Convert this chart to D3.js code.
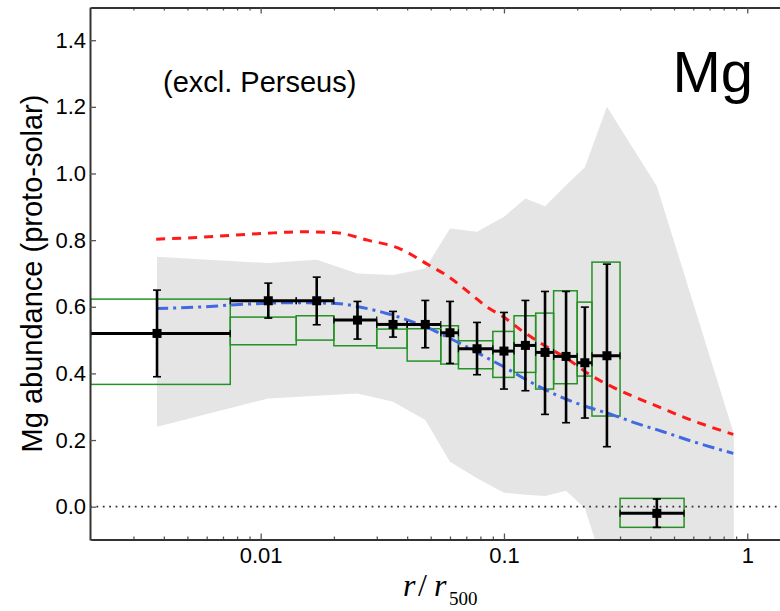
<!DOCTYPE html>
<html>
<head>
<meta charset="utf-8">
<script src="https://cdn.jsdelivr.net/npm/d3@7"></script>
<style>
  body { margin: 0; background: #fff; }
  svg { display: block; }
  text { font-family: "Liberation Sans", Arial, Helvetica, sans-serif; fill: #000; }
</style>
</head>
<body>
<svg id="chart" width="780" height="611"></svg>
<script>
// Radial bins in units of r500
const binLo  = [0, 0.0075, 0.014, 0.02, 0.03, 0.04, 0.055, 0.065, 0.09, 0.11, 0.135, 0.16, 0.2, 0.23, 0.3];
const binHi  = [0.0075, 0.014, 0.02, 0.03, 0.04, 0.055, 0.065, 0.09, 0.11, 0.135, 0.16, 0.2, 0.23, 0.3, 0.55];
const binMid = [0.00375, 0.01075, 0.017, 0.025, 0.035, 0.0475, 0.06, 0.0775, 0.1, 0.1225, 0.1475, 0.18, 0.215, 0.265, 0.425];

// Mg abundance (proto-solar) with statistical errors
const mgValue = [0.52, 0.618, 0.618, 0.56, 0.547, 0.547, 0.522, 0.474, 0.467, 0.484, 0.463, 0.451, 0.432, 0.453, -0.02];
const mgErrLo = [0.39, 0.566, 0.546, 0.503, 0.509, 0.477, 0.43, 0.396, 0.353, 0.348, 0.277, 0.252, 0.266, 0.18, -0.062];
const mgErrHi = [0.65, 0.671, 0.689, 0.616, 0.586, 0.619, 0.616, 0.553, 0.583, 0.619, 0.646, 0.646, 0.599, 0.728, 0.023];

// Systematic uncertainty boxes
const sysLo = [0.367, 0.486, 0.50, 0.483, 0.476, 0.437, 0.428, 0.414, 0.388, 0.403, 0.353, 0.369, 0.392, 0.272, -0.062];
const sysHi = [0.623, 0.569, 0.573, 0.56, 0.533, 0.534, 0.543, 0.498, 0.526, 0.573, 0.581, 0.648, 0.614, 0.734, 0.025];

// Scatter envelope of the individual clusters
const bandR  = [0.00375, 0.01075, 0.017, 0.025, 0.035, 0.0475, 0.06, 0.0775, 0.1, 0.1225, 0.1475, 0.18, 0.215, 0.265, 0.425, 0.88];
const bandHi = [0.75, 0.731, 0.741, 0.70, 0.695, 0.715, 0.835, 0.825, 0.87, 0.925, 0.902, 0.965, 1.019, 1.2, 0.962, 0.22];
const bandLo = [0.24, 0.325, 0.333, 0.34, 0.315, 0.26, 0.135, 0.085, 0.042, 0.036, 0.032, 0.048, -0.005, -0.21, -0.5, -0.6];

// Model profiles
const redR  = [0.00372, 0.00546, 0.00772, 0.01025, 0.01452, 0.0205, 0.0275, 0.0374, 0.0489, 0.059, 0.0737, 0.0849, 0.0993, 0.120, 0.1498, 0.181, 0.2257, 0.2813, 0.351, 0.4377, 0.5635, 0.7026, 0.876];
const redV  = [0.803, 0.808, 0.815, 0.82, 0.825, 0.822, 0.80, 0.774, 0.726, 0.691, 0.636, 0.60, 0.57, 0.525, 0.48, 0.445, 0.396, 0.358, 0.327, 0.298, 0.265, 0.24, 0.217];
const blueR = [0.00372, 0.0059, 0.00748, 0.0132, 0.0205, 0.0248, 0.0330, 0.0438, 0.0512, 0.0581, 0.0703, 0.0835, 0.1026, 0.1279, 0.1647, 0.2188, 0.2813, 0.351, 0.4516, 0.60, 0.876];
const blueV = [0.595, 0.600, 0.605, 0.612, 0.610, 0.601, 0.58, 0.55, 0.53, 0.51, 0.48, 0.45, 0.415, 0.375, 0.335, 0.30, 0.275, 0.25, 0.225, 0.195, 0.16];

// Axis ticks
const xMajor = [0.01, 0.1, 1];
const xMajorLabels = ["0.01", "0.1", "1"];
const xMinor = [0.003, 0.004, 0.005, 0.006, 0.007, 0.008, 0.009,
                0.02, 0.03, 0.04, 0.05, 0.06, 0.07, 0.08, 0.09,
                0.2, 0.3, 0.4, 0.5, 0.6, 0.7, 0.8, 0.9];
const yMajor = [0.0, 0.2, 0.4, 0.6, 0.8, 1.0, 1.2, 1.4];

const svg = d3.select("#chart");
const xMin = 0.002;
const x = d3.scaleLog().domain([xMin, 1.5]).range([90.6, 790.1]);
const y = d3.scaleLinear().domain([-0.1, 1.5]).range([540, 6.9]);
const xc = v => x(Math.max(v, xMin));

const plotLeft = 90, plotTop = 7.5, plotBottom = 539.5;

svg.append("defs").append("clipPath").attr("id", "plotClip")
  .append("rect").attr("x", plotLeft).attr("y", plotTop)
  .attr("width", 780 - plotLeft).attr("height", plotBottom - plotTop);

const plot = svg.append("g").attr("clip-path", "url(#plotClip)");

// grey envelope
const bandData = bandR.map((r, i) => ({ r, lo: bandLo[i], hi: bandHi[i] }));
plot.append("path")
  .datum(bandData)
  .attr("fill", "#e5e5e5")
  .attr("d", d3.area().x(d => x(d.r)).y0(d => y(d.lo)).y1(d => y(d.hi)));

// zero line
plot.append("line")
  .attr("x1", plotLeft).attr("x2", 780)
  .attr("y1", y(0)).attr("y2", y(0))
  .attr("stroke", "#333").attr("stroke-width", 1.8)
  .attr("stroke-dasharray", "1.8,4.6");

const pts = binMid.map((m, i) => ({
  m, lo: binLo[i], hi: binHi[i], v: mgValue[i],
  eLo: mgErrLo[i], eHi: mgErrHi[i], sLo: sysLo[i], sHi: sysHi[i]
}));

// systematic boxes
plot.selectAll("rect.sys").data(pts).join("rect")
  .attr("class", "sys")
  .attr("x", d => xc(d.lo))
  .attr("width", d => xc(d.hi) - xc(d.lo))
  .attr("y", d => y(d.sHi))
  .attr("height", d => y(d.sLo) - y(d.sHi))
  .attr("fill", "none")
  .attr("stroke", "#259225")
  .attr("stroke-width", 1.5);

// model curves
const curve = d3.line().x(d => x(d[0])).y(d => y(d[1])).curve(d3.curveMonotoneX);
plot.append("path")
  .datum(redR.map((r, i) => [r, redV[i]]))
  .attr("fill", "none").attr("stroke", "#ff1a1a").attr("stroke-width", 3)
  .attr("stroke-dasharray", "9,7")
  .attr("d", curve);
plot.append("path")
  .datum(blueR.map((r, i) => [r, blueV[i]]))
  .attr("fill", "none").attr("stroke", "#4169e1").attr("stroke-width", 3)
  .attr("stroke-dasharray", "12,5,3,5")
  .attr("d", curve);

// error bars
const eb = plot.append("g").attr("stroke", "#000");
eb.selectAll("line.h").data(pts).join("line")
  .attr("x1", d => xc(d.lo)).attr("x2", d => xc(d.hi))
  .attr("y1", d => y(d.v)).attr("y2", d => y(d.v))
  .attr("stroke-width", 3);
eb.selectAll("line.v").data(pts).join("line")
  .attr("x1", d => x(d.m)).attr("x2", d => x(d.m))
  .attr("y1", d => y(d.eLo)).attr("y2", d => y(d.eHi))
  .attr("stroke-width", 2.6);
["eLo", "eHi"].forEach(k => {
  eb.selectAll("line.c" + k).data(pts).join("line")
    .attr("x1", d => x(d.m) - 4).attr("x2", d => x(d.m) + 4)
    .attr("y1", d => y(d[k])).attr("y2", d => y(d[k]))
    .attr("stroke-width", 1.6);
});
// bin-edge caps on horizontal bars
["lo", "hi"].forEach(k => {
  eb.selectAll("line.b" + k).data(pts).join("line")
    .attr("x1", d => xc(d[k])).attr("x2", d => xc(d[k]))
    .attr("y1", d => y(d.v) - 3.5).attr("y2", d => y(d.v) + 3.5)
    .attr("stroke-width", 1.2);
});
plot.selectAll("rect.mk").data(pts).join("rect")
  .attr("x", d => x(d.m) - 4.5).attr("y", d => y(d.v) - 4.5)
  .attr("width", 9).attr("height", 9).attr("fill", "#000");

// axes
function styleAxis(g) {
  g.select(".domain").attr("stroke", "#333").attr("stroke-width", 2);
  g.selectAll(".tick line").attr("stroke", "#555").attr("stroke-width", 1.3);
  g.selectAll(".tick text").attr("fill", "#000")
    .style("font-family", '"Liberation Sans", Arial, sans-serif');
}

// bottom
svg.append("g").attr("transform", `translate(0,${plotBottom})`)
  .call(d3.axisBottom(x).tickValues(xMinor).tickSize(-3).tickSizeOuter(0).tickFormat(""))
  .call(g => { g.select(".domain").remove(); g.selectAll(".tick line").attr("stroke", "#555").attr("stroke-width", 1.3); });
svg.append("g").attr("transform", `translate(0,${plotBottom})`)
  .call(d3.axisBottom(x).tickValues(xMajor).tickSize(-6).tickSizeOuter(0).tickPadding(7.5)
        .tickFormat((d, i) => xMajorLabels[i]))
  .call(styleAxis)
  .call(g => g.selectAll(".tick text").attr("font-size", 22));

// top
svg.append("g").attr("transform", `translate(0,${plotTop})`)
  .call(d3.axisTop(x).tickValues(xMinor).tickSize(-3).tickSizeOuter(0).tickFormat(""))
  .call(g => { g.select(".domain").remove(); g.selectAll(".tick line").attr("stroke", "#555").attr("stroke-width", 1.3); });
svg.append("g").attr("transform", `translate(0,${plotTop})`)
  .call(d3.axisTop(x).tickValues(xMajor).tickSize(-6).tickSizeOuter(0).tickFormat(""))
  .call(styleAxis);

// left
svg.append("g").attr("transform", `translate(${plotLeft},0)`)
  .call(d3.axisLeft(y).tickValues(yMajor).tickSize(-6).tickSizeOuter(0).tickPadding(4)
        .tickFormat(d3.format(".1f")))
  .call(styleAxis)
  .call(g => g.selectAll(".tick text").attr("font-size", 22));

// axis titles
svg.append("text")
  .attr("transform", "translate(41.5,273.5) rotate(-90)")
  .attr("text-anchor", "middle")
  .attr("font-size", 29)
  .text("Mg abundance (proto-solar)");

const xt = svg.append("text")
  .attr("y", 596)
  .style("font-family", '"Liberation Serif", "Times New Roman", serif');
xt.append("tspan").attr("x", 403).attr("font-style", "italic").attr("font-size", 32).text("r");
xt.append("tspan").attr("x", 418).attr("font-size", 32).text("/");
xt.append("tspan").attr("x", 434).attr("font-style", "italic").attr("font-size", 32).text("r");
xt.append("tspan").attr("x", 449).attr("dy", 9).attr("font-size", 19).text("500");

// annotations
svg.append("text").attr("x", 163).attr("y", 92).attr("font-size", 29).text("(excl. Perseus)");
svg.append("text").attr("x", 672.4).attr("y", 91.7).attr("font-size", 58).text("Mg");
</script>
</body>
</html>
